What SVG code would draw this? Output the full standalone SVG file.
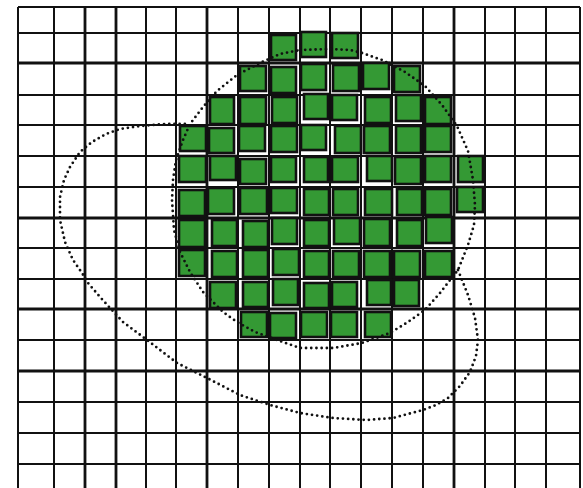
<svg xmlns="http://www.w3.org/2000/svg" width="583" height="488" viewBox="0 0 583 488">
<style>
.g line{stroke:#111;stroke-width:2}
.g .t{stroke-width:2.8}
.c rect{fill:#349934;stroke:#111;stroke-width:2.6}
.d{fill:none;stroke:#111;stroke-width:2.8;stroke-dasharray:0 5.2;stroke-linecap:round;stroke-linejoin:round}
</style>
<rect width="583" height="488" fill="#fff"/>
<g id="grid" class="g">
<line x1="18" y1="7" x2="18" y2="488"/>
<line x1="54" y1="7" x2="54" y2="488"/>
<line class="t" x1="85" y1="7" x2="85" y2="488"/>
<line class="t" x1="116" y1="7" x2="116" y2="488"/>
<line x1="146" y1="7" x2="146" y2="488"/>
<line x1="176" y1="7" x2="176" y2="488"/>
<line class="t" x1="207" y1="7" x2="207" y2="488"/>
<line x1="238" y1="7" x2="238" y2="488"/>
<line x1="269" y1="7" x2="269" y2="488"/>
<line x1="300" y1="7" x2="300" y2="488"/>
<line x1="330" y1="7" x2="330" y2="488"/>
<line x1="361" y1="7" x2="361" y2="488"/>
<line x1="392" y1="7" x2="392" y2="488"/>
<line x1="423" y1="7" x2="423" y2="488"/>
<line class="t" x1="454" y1="7" x2="454" y2="488"/>
<line x1="485" y1="7" x2="485" y2="488"/>
<line x1="515" y1="7" x2="515" y2="488"/>
<line x1="546" y1="7" x2="546" y2="488"/>
<line x1="580" y1="7" x2="580" y2="488"/>
<line x1="18" y1="7" x2="580" y2="7"/>
<line x1="18" y1="33" x2="580" y2="33"/>
<line class="t" x1="18" y1="63" x2="580" y2="63"/>
<line x1="18" y1="95" x2="580" y2="95"/>
<line x1="18" y1="125" x2="580" y2="125"/>
<line x1="18" y1="156" x2="580" y2="156"/>
<line x1="18" y1="187" x2="580" y2="187"/>
<line class="t" x1="18" y1="218" x2="580" y2="218"/>
<line x1="18" y1="248" x2="580" y2="248"/>
<line x1="18" y1="279" x2="580" y2="279"/>
<line class="t" x1="18" y1="309" x2="580" y2="309"/>
<line x1="18" y1="340" x2="580" y2="340"/>
<line class="t" x1="18" y1="371" x2="580" y2="371"/>
<line x1="18" y1="402" x2="580" y2="402"/>
<line x1="18" y1="433" x2="580" y2="433"/>
<line x1="18" y1="464" x2="580" y2="464"/>
</g>
<g id="cells" class="c">
<rect x="271" y="35" width="25" height="25"/>
<rect x="301" y="32" width="25" height="25"/>
<rect x="332" y="33" width="26" height="25"/>
<rect x="240" y="66" width="26" height="25"/>
<rect x="271" y="67" width="25" height="26"/>
<rect x="301" y="64" width="25" height="26"/>
<rect x="333" y="65" width="26" height="26"/>
<rect x="363" y="63" width="26" height="26"/>
<rect x="394" y="66" width="26" height="26"/>
<rect x="210" y="97" width="24" height="27"/>
<rect x="240" y="97" width="26" height="27"/>
<rect x="272" y="97" width="25" height="26"/>
<rect x="304" y="94" width="24" height="25"/>
<rect x="332" y="95" width="25" height="25"/>
<rect x="365" y="97" width="26" height="26"/>
<rect x="396" y="95" width="25" height="26"/>
<rect x="425" y="97" width="26" height="27"/>
<rect x="180" y="126" width="26" height="25"/>
<rect x="209" y="128" width="25" height="25"/>
<rect x="239" y="126" width="26" height="25"/>
<rect x="271" y="126" width="26" height="26"/>
<rect x="301" y="125" width="25" height="25"/>
<rect x="335" y="126" width="26" height="27"/>
<rect x="364" y="126" width="26" height="27"/>
<rect x="396" y="126" width="25" height="27"/>
<rect x="425" y="126" width="26" height="26"/>
<rect x="179" y="156" width="27" height="26"/>
<rect x="210" y="156" width="26" height="24"/>
<rect x="240" y="159" width="26" height="25"/>
<rect x="271" y="157" width="25" height="25"/>
<rect x="304" y="157" width="24" height="25"/>
<rect x="332" y="157" width="26" height="25"/>
<rect x="367" y="156" width="25" height="25"/>
<rect x="395" y="157" width="26" height="27"/>
<rect x="425" y="156" width="26" height="26"/>
<rect x="458" y="156" width="25" height="26"/>
<rect x="179" y="190" width="26" height="26"/>
<rect x="208" y="188" width="26" height="26"/>
<rect x="240" y="188" width="27" height="26"/>
<rect x="271" y="188" width="26" height="25"/>
<rect x="304" y="189" width="25" height="26"/>
<rect x="333" y="189" width="25" height="26"/>
<rect x="365" y="189" width="27" height="26"/>
<rect x="397" y="189" width="25" height="26"/>
<rect x="425" y="189" width="26" height="26"/>
<rect x="457" y="187" width="26" height="25"/>
<rect x="179" y="220" width="26" height="27"/>
<rect x="212" y="220" width="25" height="26"/>
<rect x="243" y="221" width="25" height="26"/>
<rect x="272" y="218" width="25" height="26"/>
<rect x="304" y="220" width="25" height="26"/>
<rect x="334" y="218" width="26" height="26"/>
<rect x="364" y="219" width="26" height="27"/>
<rect x="397" y="220" width="25" height="26"/>
<rect x="426" y="217" width="26" height="26"/>
<rect x="179" y="250" width="26" height="26"/>
<rect x="212" y="251" width="25" height="26"/>
<rect x="243" y="250" width="25" height="27"/>
<rect x="273" y="249" width="26" height="26"/>
<rect x="304" y="251" width="25" height="26"/>
<rect x="333" y="251" width="26" height="26"/>
<rect x="364" y="251" width="26" height="26"/>
<rect x="394" y="251" width="26" height="26"/>
<rect x="425" y="251" width="27" height="26"/>
<rect x="210" y="282" width="26" height="26"/>
<rect x="243" y="282" width="25" height="25"/>
<rect x="273" y="279" width="25" height="26"/>
<rect x="304" y="283" width="25" height="25"/>
<rect x="332" y="282" width="25" height="25"/>
<rect x="367" y="280" width="24" height="25"/>
<rect x="394" y="280" width="25" height="26"/>
<rect x="241" y="312" width="26" height="25"/>
<rect x="270" y="313" width="26" height="25"/>
<rect x="301" y="312" width="26" height="25"/>
<rect x="331" y="312" width="26" height="25"/>
<rect x="365" y="312" width="26" height="25"/>
</g>
<g id="curves">
<path id="curve-inner" class="d" d="M300,50 L330,49 L350,50 L362,53 L382,60 L405,72 L425,86 L442,105 L457,126 L468,151 L473,180 L475,205 L474,225 L468,245 L458,270 L440,293 L425,310 L408,322 L390,333 L362,343 L333,348 L300,348 L277,340 L255,332 L237,322 L223,312 L203,292 L190,272 L180,252 L174,230 L172,200 L173,180 L176,160 L183,140 L190,124 L203,107 L217,91 L237,75 L262,62 L280,54 Z"/>
<path id="curve-outer" class="d" d="M458,270 L468,295 L475,318 L478,340 L476,356 L470,372 L460,386 L448,398 L436,405 L423,410 L393,418 L366,420 L333,418 L300,413 L270,405 L240,395 L207,378 L177,363 L147,340 L123,322 L110,308 L100,297 L88,283 L82,273 L73,260 L65,242 L60,220 L60,197 L64,180 L70,167 L80,152 L92,142 L106,134 L120,129 L140,126 L165,124 L190,124"/>
</g>
</svg>
